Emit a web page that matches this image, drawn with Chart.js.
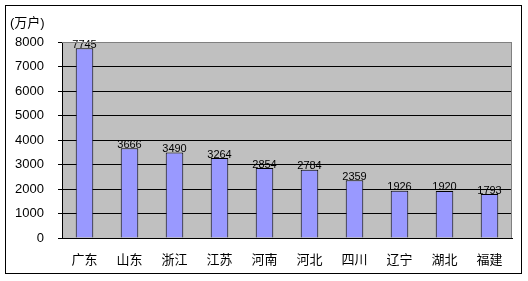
<!DOCTYPE html>
<html>
<head>
<meta charset="utf-8">
<script src="https://cdn.jsdelivr.net/npm/chart.js@4"></script>
<style>
  html, body { margin: 0; padding: 0; background: #fff; }
  #wrap { width: 528px; height: 281px; }
</style>
</head>
<body>
<div id="wrap"><canvas id="myChart" width="528" height="281"></canvas></div>
<script>
// provinces (categories)
const provinces = ['广东', '山东', '浙江', '江苏', '河南', '河北', '四川', '辽宁', '湖北', '福建'];
// households, 10k
const households = [7745, 3666, 3490, 3264, 2854, 2784, 2359, 1926, 1920, 1793];
const yTicks = [0, 1000, 2000, 3000, 4000, 5000, 6000, 7000, 8000];
const unitLabel = '(万户)';

const FONT = '"Liberation Sans", "Noto Sans CJK SC", sans-serif';

// plot background, outer frame, unit label
const framePlugin = {
  id: 'frame',
  beforeDraw(chart) {
    const {ctx, chartArea: a} = chart;
    ctx.save();
    ctx.fillStyle = '#fff';
    ctx.fillRect(0, 0, chart.width, chart.height);
    ctx.fillStyle = '#C0C0C0';
    ctx.fillRect(a.left, a.top, a.right - a.left, a.bottom - a.top);
    ctx.restore();
  },
  afterDraw(chart) {
    const {ctx, chartArea: a} = chart;
    ctx.save();
    ctx.strokeStyle = '#808080';
    ctx.lineWidth = 1;
    ctx.beginPath();
    ctx.moveTo(a.left, a.top + 0.5);
    ctx.lineTo(a.right - 0.5, a.top + 0.5);
    ctx.lineTo(a.right - 0.5, a.bottom);
    ctx.stroke();
    ctx.strokeStyle = '#000';
    ctx.strokeRect(5.5, 5.5, 516, 268);
    ctx.fillStyle = '#000';
    ctx.font = '13px ' + FONT;
    ctx.textBaseline = 'middle';
    ctx.fillText(unitLabel, 10, 23);
    ctx.restore();
  }
};

// value labels above bars
const valueLabels = {
  id: 'valueLabels',
  afterDatasetsDraw(chart) {
    const {ctx} = chart;
    const meta = chart.getDatasetMeta(0);
    ctx.save();
    ctx.fillStyle = '#000';
    ctx.font = '11px ' + FONT;
    ctx.textAlign = 'center';
    ctx.textBaseline = 'bottom';
    meta.data.forEach((bar, i) => {
      ctx.fillText(households[i], bar.x, bar.y + 2);
    });
    ctx.restore();
  }
};

new Chart(document.getElementById('myChart'), {
  type: 'bar',
  data: {
    labels: provinces,
    datasets: [{
      data: households,
      backgroundColor: '#9999FF',
      borderColor: '#000',
      borderWidth: 1,
      borderSkipped: 'bottom',
      categoryPercentage: 1,
      barPercentage: 0.39
    }]
  },
  options: {
    responsive: false,
    animation: false,
    layout: { padding: { top: 42, right: 16, left: 0, bottom: 0 } },
    plugins: { legend: { display: false }, tooltip: { enabled: false } },
    scales: {
      x: {
        grid: { color: 'transparent', drawTicks: false },
        border: { color: '#000', width: 1 },
        ticks: { color: '#000', font: { size: 13, family: FONT }, padding: 15, maxRotation: 0 },
        afterFit(scale) { scale.height = 43; }
      },
      y: {
        min: 0,
        max: 8000,
        afterBuildTicks(scale) { scale.ticks = yTicks.map(v => ({value: v})); },
        grid: {
          color: ctx => (ctx.tick && ctx.tick.value === 8000) ? '#808080' : '#000',
          tickColor: '#000',
          tickLength: 4,
          lineWidth: 1
        },
        border: { color: '#000', width: 1 },
        ticks: {
          color: '#000',
          font: { size: 13, family: FONT },
          padding: 14,
          callback: v => String(v)
        },
        afterFit(scale) { scale.width = 62; }
      }
    }
  },
  plugins: [framePlugin, valueLabels]
});
</script>
</body>
</html>
